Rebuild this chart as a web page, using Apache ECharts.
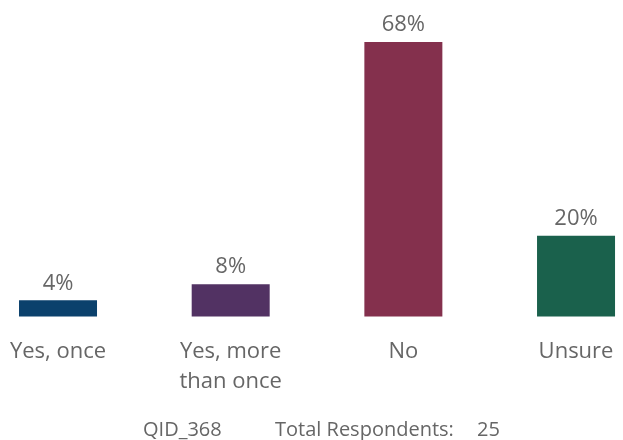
<!DOCTYPE html>
<html><head><meta charset="utf-8">
<script src="https://cdn.jsdelivr.net/npm/echarts@6/dist/echarts.min.js"></script>
<style>html,body{margin:0;padding:0;background:#fff}#c{width:623px;height:440px}</style>
</head><body><div id="c"></div>
<script>
const categories = ['Yes, once', 'Yes, more\nthan once', 'No', 'Unsure'];
const values = [4, 8, 68, 20];
const colors = ['#0B416C', '#523263', '#84304D', '#1A614C'];
const qid = 'QID_368';
const totalLabel = 'Total Respondents:';
const totalN = '25';

const FONT = '"Open Sans", Lato, sans-serif';
const chart = echarts.init(document.getElementById('c'), null, {renderer: 'canvas'});
chart.setOption({
  animation: false,
  grid: {left: 0, right: 0, top: 42, bottom: 123.5, containLabel: false},
  xAxis: {
    type: 'value', min: -0.336, max: 3.272, show: false, splitLine: {show: false}
  },
  yAxis: {type: 'value', min: 0, max: 68, show: false, splitLine: {show: false}},
  series: [{
    type: 'bar', barWidth: 78,
    data: values.map((v, i) => ({value: [i, v], itemStyle: {color: colors[i]}})),
    label: {show: true, position: 'top', distance: 6, formatter: p => p.value[1] + '%', color: '#666666', fontSize: 22, fontFamily: FONT}
  }, {
    type: 'scatter', symbolSize: 0, silent: true,
    itemStyle: {opacity: 1},
    data: categories.map((c, i) => ({value: [i, 0], name: c})),
    label: {show: true, position: 'bottom', distance: 20, formatter: p => p.name, color: '#666666', fontSize: 22, lineHeight: 30, fontFamily: FONT, align: 'center'}
  }],
  graphic: [
    {type: 'text', x: 143, y: 430, style: {text: qid, fill: '#666666', font: '20px ' + FONT, verticalAlign: 'middle'}},
    {type: 'text', x: 275, y: 430, style: {text: totalLabel, fill: '#666666', font: '20px ' + FONT, verticalAlign: 'middle'}},
    {type: 'text', x: 477, y: 430, style: {text: totalN, fill: '#666666', font: '20px ' + FONT, verticalAlign: 'middle'}}
  ]
});
</script></body></html>
